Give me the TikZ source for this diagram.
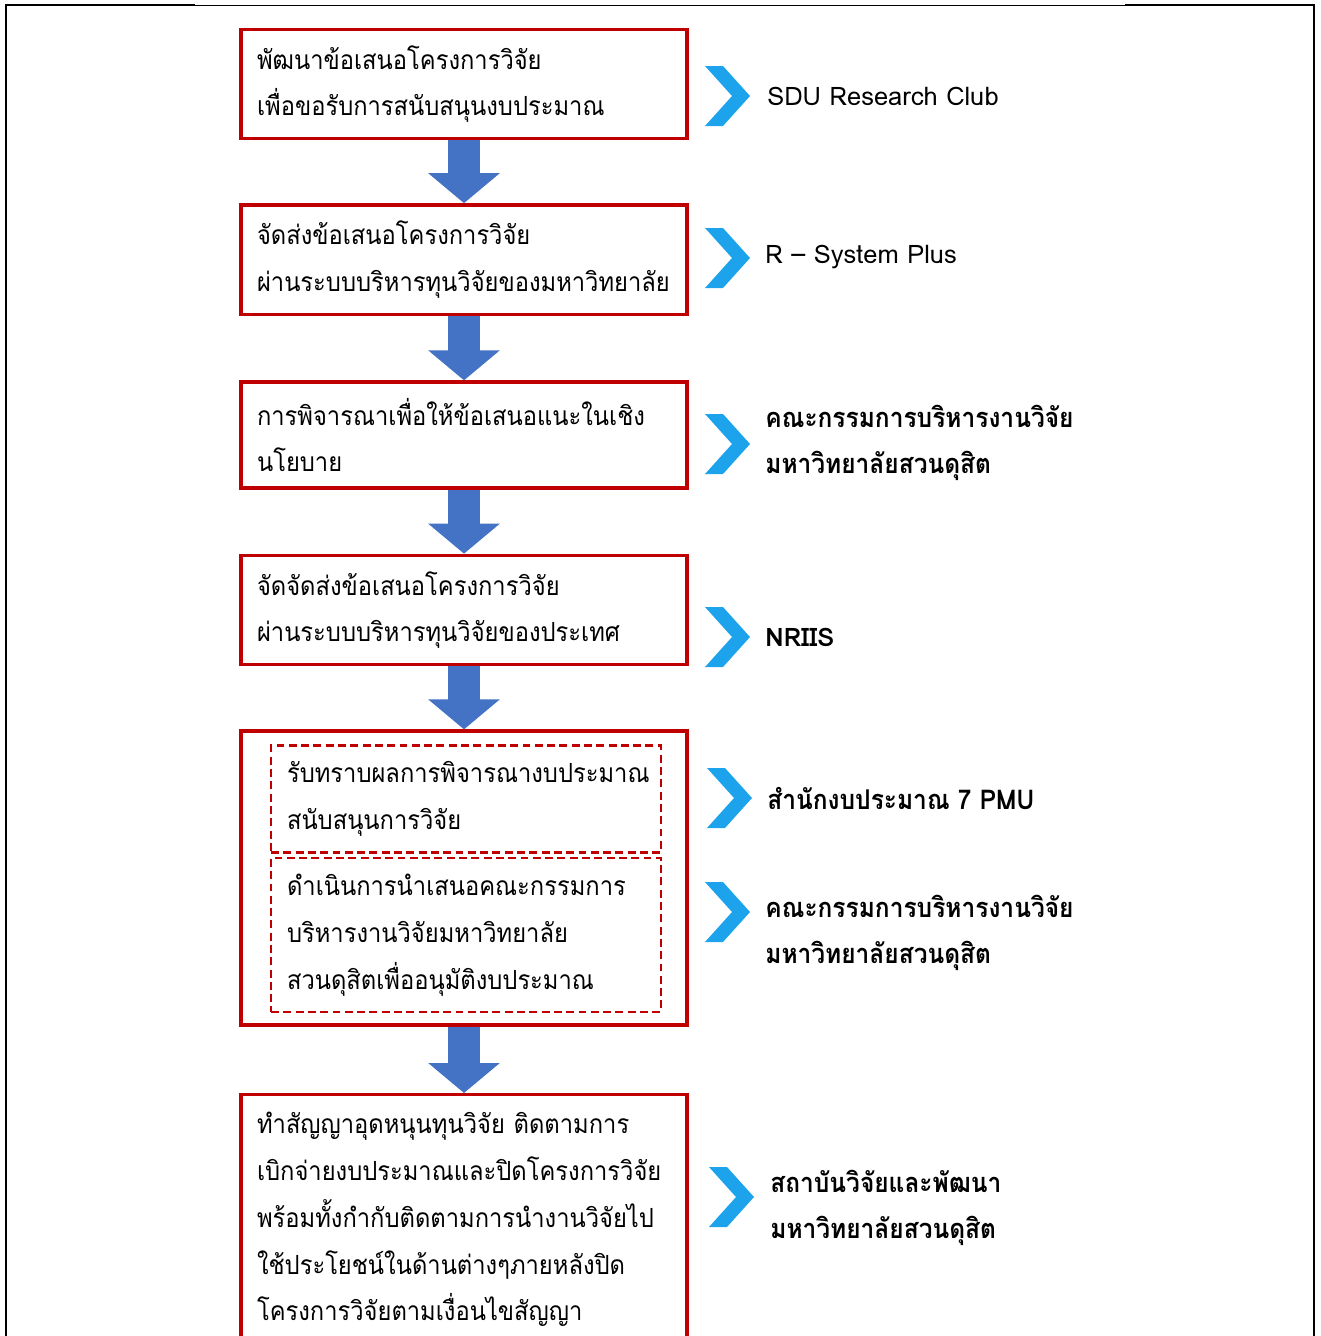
\documentclass[tikz,border=0pt]{standalone}
\usepackage{fontspec}
\setmainfont[Script=Thai,FakeStretch=0.9]{Loma}
\newfontfamily\latinfont{Loma}
\usetikzlibrary{positioning,arrows.meta}
\definecolor{boxred}{RGB}{192,0,0}
\definecolor{flowblue}{RGB}{68,114,196}
\definecolor{chevblue}{RGB}{28,163,236}
\tikzset{
  stepbox/.style={draw=boxred,line width=1.9pt,minimum width=8.92cm,
    text width=8.28cm,inner sep=0.32cm,align=left,
    font=\fontsize{15}{26.6}\selectfont},
  substep/.style={draw=boxred,line width=1.5pt,dash pattern=on 4.5pt off 2.5pt,
    minimum width=7.8cm,text width=7.16cm,inner sep=0.32cm,align=left,
    font=\fontsize{15}{26.6}\selectfont},
  sidetext/.style={anchor=west,inner sep=0pt,align=left,
    font=\fontsize{15.5}{26.2}\selectfont},
  sidebold/.style={sidetext,font=\fontsize{15.5}{26.2}\selectfont\bfseries},
  flow/.style={flowblue,line width=0.64cm,-{Triangle[width=1.4cm,length=0.6cm]}},
  chev/.pic={\fill[chevblue] (0,-30) -- (18,-30) -- (45,0) -- (18,30) -- (0,30) -- (27,0) -- cycle;}
}
\begin{document}
\begin{tikzpicture}[x=0.02cm,y=-0.02cm]
  \useasboundingbox (0,0) rectangle (1320,1336);
  % frame
  \draw[line width=1.3pt] (6,1336) -- (6,5) -- (195,5);
  \draw[line width=0.5pt] (195,5) -- (1125,5);
  \draw[line width=1.3pt] (1125,5) -- (1314,5) -- (1314,1336);

  % steps
  \node[stepbox,minimum height=2.12cm] (dev) at (464,84)
    {พัฒนาข้อเสนอโครงการวิจัย\\เพื่อขอรับการสนับสนุนงบประมาณ};
  \node[stepbox,minimum height=2.12cm] (send) at (464,259.5)
    {จัดส่งข้อเสนอโครงการวิจัย\\ผ่านระบบบริหารทุนวิจัยของมหาวิทยาลัย};
  \node[stepbox,minimum height=2.12cm] (policy) at (464,435)
    {การพิจารณาเพื่อให้ข้อเสนอแนะในเชิง\\นโยบาย};
  \node[stepbox,minimum height=2.12cm] (nrsend) at (464,610)
    {จัดจัดส่งข้อเสนอโครงการวิจัย\\ผ่านระบบบริหารทุนวิจัยของประเทศ};
  \node[stepbox,minimum height=5.88cm] (budget) at (464,878) {};
  \node[substep,minimum height=2.12cm] (notice) at (466,799)
    {รับทราบผลการพิจารณางบประมาณ\\สนับสนุนการวิจัย};
  \node[substep,minimum height=3.08cm] (approve) at (466,935)
    {ดำเนินการนำเสนอคณะกรรมการ\\บริหารงานวิจัยมหาวิทยาลัย\\สวนดุสิตเพื่ออนุมัติงบประมาณ};
  \node[stepbox,minimum height=5cm,anchor=north] (contract) at (464,1093)
    {ทำสัญญาอุดหนุนทุนวิจัย ติดตามการ\\เบิกจ่ายงบประมาณและปิดโครงการวิจัย\\พร้อมทั้งกำกับติดตามการนำงานวิจัยไป\\ใช้ประโยชน์ในด้านต่างๆภายหลังปิด\\โครงการวิจัยตามเงื่อนไขสัญญา};

  % arrows
  \draw[flow] (dev) -- (send);
  \draw[flow] (send) -- (policy);
  \draw[flow] (policy) -- (nrsend);
  \draw[flow] (nrsend) -- (budget);
  \draw[flow] (budget) -- (contract);

  % who
  \pic at (705,96) {chev};
  \node[sidetext,font=\fontsize{14.5}{26.2}\latinfont] (club) at (767,96) {SDU Research Club};
  \pic at (705,258) {chev};
  \node[sidetext,font=\fontsize{14.5}{26.2}\latinfont] (rsys) at (765,257) {R – System Plus};
  \pic at (705,444) {chev};
  \node[sidebold] (board) at (765,443)
    {คณะกรรมการบริหารงานวิจัย\\มหาวิทยาลัยสวนดุสิต};
  \pic at (705,637) {chev};
  \node[sidebold,font=\fontsize{14.5}{26.2}\latinfont\bfseries] (nriis) at (765,637) {NRIIS};
  \pic at (707,798) {chev};
  \node[sidebold] (pmu) at (767,798)
    {สำนักงบประมาณ 7 PMU};
  \pic at (705,912) {chev};
  \node[sidebold] (board2) at (765,933)
    {คณะกรรมการบริหารงานวิจัย\\มหาวิทยาลัยสวนดุสิต};
  \pic at (709,1197) {chev};
  \node[sidebold] (rdi) at (770,1208)
    {สถาบันวิจัยและพัฒนา\\มหาวิทยาลัยสวนดุสิต};
\end{tikzpicture}
\end{document}
